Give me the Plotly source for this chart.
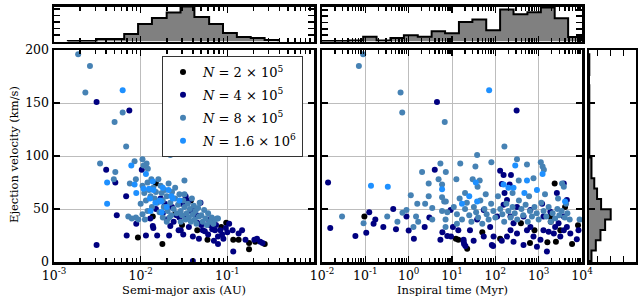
import plotly.graph_objects as go
import numpy as np

W, H = 639, 301

# ---------------- data: left panel (semi-major axis [AU], velocity [km/s]) ----------------
black_a = [0.0093, 0.0138, 0.015, 0.0178, 0.025, 0.030, 0.038, 0.045, 0.059, 0.066, 0.085,
           0.097, 0.117, 0.135, 0.178, 0.178, 0.21, 0.27]
black_va = [23, 43, 74, 17, 45, 35, 58, 30, 21, 39, 33, 37, 21, 21, 18, 12, 19, 17]

navy_a = [0.0031, 0.0040, 0.0051, 0.0053, 0.0068, 0.0069, 0.0089, 0.0103, 0.0115, 0.0129,
          0.0138, 0.0140, 0.0155, 0.0213, 0.022, 0.0274, 0.0031, 0.0074,
          0.015, 0.017, 0.018, 0.020, 0.023, 0.026, 0.033, 0.024, 0.036, 0.038, 0.030, 0.042,
          0.028, 0.019,
          0.029, 0.033, 0.036, 0.040, 0.041, 0.044, 0.045, 0.047, 0.049, 0.052, 0.055, 0.060,
          0.061, 0.067, 0.072, 0.074, 0.078, 0.078, 0.083, 0.087, 0.096, 0.105, 0.115, 0.117,
          0.135, 0.148, 0.162, 0.205, 0.22, 0.24, 0.255, 0.04,
          0.031, 0.05, 0.063, 0.09, 0.1, 0.07]
navy_va = [16, 87, 75, 44, 62, 25, 36, 87, 25, 41,
           34, 32, 25, 25, 34, 30, 151, 143,
           50, 60, 46, 40, 52, 44, 62, 38, 58, 48, 55, 45,
           42, 55,
           30, 41, 33, 24, 51, 44, 37, 22, 56, 30, 29, 26,
           40, 31, 30, 35, 24, 17, 30, 26, 32, 36, 30, 10,
           27, 30, 21, 21, 22, 19, 18, 1,
           26, 35, 35, 22, 28, 20]

steel_a = [0.0019, 0.0026, 0.0023, 0.0062, 0.0050, 0.0068, 0.022, 0.0034, 0.0051, 0.0049,
           0.0085, 0.0105, 0.0117, 0.0108, 0.0121, 0.0075, 0.0088, 0.0133, 0.010, 0.0079,
           0.0088, 0.0094, 0.0072, 0.032, 0.078,
           0.0105, 0.011, 0.0115, 0.012, 0.0125, 0.013, 0.0135, 0.014, 0.0145, 0.015, 0.0155,
           0.016, 0.0105, 0.0112, 0.012,
           0.017, 0.0175, 0.018, 0.0185, 0.019, 0.020, 0.0205, 0.021, 0.022, 0.0225, 0.023,
           0.024, 0.025, 0.026, 0.027, 0.018, 0.020, 0.0215, 0.025, 0.028, 0.0165,
           0.029, 0.030, 0.031, 0.032, 0.033, 0.034, 0.035, 0.036, 0.037, 0.038, 0.040, 0.041,
           0.042, 0.043, 0.044, 0.046, 0.047, 0.048, 0.032, 0.029, 0.039,
           0.05, 0.052, 0.054, 0.056, 0.058, 0.06, 0.063, 0.066, 0.069, 0.072, 0.076]
steel_va = [196, 185, 160, 141, 132, 109, 101, 93, 85, 78,
            95, 97, 93, 91, 88, 74, 78, 78, 55, 41,
            42, 40, 43, 77, 41,
            72, 65, 58, 75, 68, 62, 52, 70, 60, 66, 56,
            78, 45, 40, 48,
            72, 65, 58, 52, 68, 62, 48, 74, 56, 44, 66,
            50, 60, 46, 54, 42, 38, 42, 70, 64, 47,
            48, 44, 58, 52, 40, 46, 55, 42, 50, 38, 45, 53,
            40, 48, 36, 51, 43, 56, 64, 38, 60,
            44, 38, 49, 41, 35, 46, 38, 42, 36, 40, 41]

dodger_a = [0.0062, 0.0041, 0.0041, 0.0078, 0.0085, 0.0115, 0.0089, 0.0108, 0.014, 0.018,
            0.021, 0.0128, 0.0166, 0.0227, 0.0125, 0.0138, 0.0148, 0.0172, 0.0235, 0.013,
            0.02, 0.028, 0.0175]
dodger_va = [162, 75, 55, 91, 73, 83, 65, 69, 68, 70,
             68, 60, 58, 62, 69, 76, 56, 57, 60, 48,
             52, 58, 47]

# ---------------- data: right panel (inspiral time [Myr], velocity [km/s]) ----------------
black_t = [0.095, 12.3, 14, 22.4, 50, 129, 390, 630, 800, 1590, 1860, 1900, 2340, 2500,
           3160, 4070, 5900, 8100]
black_vt = [43, 22, 21, 12.5, 28, 22, 36.5, 18, 30, 18.6, 43, 38, 74, 19, 30, 52, 17, 34.6]

navy_t = [0.0138, 0.0155, 0.059, 0.105, 0.123, 0.155, 0.17, 0.26, 0.44, 0.51, 0.89, 1.0,
          1.32, 2.34, 3.0, 4.0, 4.5, 6.0, 5.4, 7.8, 9.5, 9.3, 310,
          10.5, 14, 18.5, 19, 26, 31.6, 54, 76, 83, 141, 214, 163, 186, 155, 224, 263, 224,
          186, 263, 316, 537, 645, 759, 1100, 1290, 1550, 1700, 2240, 2400, 2880, 3160, 3800,
          4470, 5370, 7590, 8300, 2630, 3800, 4470, 1200, 447, 110, 38, 54, 316, 645, 1290,
          1860, 3800, 91, 447, 912, 129, 155, 229, 18.6, 20.4, 89, 141]
navy_vt = [75, 32, 24.5, 27.7, 47, 36, 40, 33, 50, 31, 43, 29.6,
           22, 33, 42, 87, 151, 28, 21, 24.5, 24, 49, 143,
           33, 30, 21, 17, 30, 20, 24, 33, 16, 73.6, 73, 65, 58.5, 54, 43, 36.5, 30,
           24, 19, 27, 30, 33, 24, 21, 30, 10, 28.6, 27, 33, 36.5, 24, 30,
           33, 27, 21.4, 30, 65, 74, 58.5, 55, 43, 43, 40, 49, 52, 49, 43,
           47.5, 43, 24, 16, 14.5, 86, 82, 82, 19, 15, 15, 20]

steel_t = [0.089, 0.071, 0.65, 0.71, 6.8, 162, 38, 316, 15.5, 81, 537, 1120, 1230, 1320, 34.7,
           0.029, 0.091, 0.32, 0.55, 0.72, 0.89, 1.12, 1.29, 1.48, 1.66, 1.58, 2.04, 2.4, 2.9,
           2.9, 3.5, 3.5, 5.4, 4.9, 5.9, 5.9, 6.6, 7.2, 7.2, 5.9, 7.8, 7.1, 7.1,
           12.6, 30, 43.6, 38.9, 347, 759, 3470, 3800,
           11, 13, 15, 17, 20, 22, 25, 28, 32, 36, 40, 45, 50, 56, 63, 70, 80, 90, 100, 115,
           130, 145, 160, 180, 200, 225, 250, 280, 320, 350, 400, 440, 500, 560, 630, 700, 800,
           900, 1000, 1150, 1300, 1500, 1700, 1900, 2100, 2400, 2700, 3000, 3400, 4000, 4600,
           5200, 600, 250, 1400, 60, 20, 2800, 4300, 13, 8800]
steel_vt = [196, 185, 160, 141, 132, 109, 101, 97, 93, 94, 92, 94, 90, 87, 90,
            43, 36.5, 43, 38, 46.5, 49, 63, 33, 43, 38, 55, 85, 55, 74,
            62, 40, 51, 93, 78, 73, 61, 57, 57, 85, 48, 47, 40, 33,
            78, 78, 77, 71, 77, 79, 74, 71,
            52, 45, 60, 40, 50, 56, 44, 38, 52, 47, 42, 58, 36, 50, 45, 40, 55, 48, 42, 62,
            50, 45, 38, 55, 48, 42, 52, 46, 40, 58, 50, 44, 54, 38, 48, 43, 52,
            46, 40, 56, 48, 43, 52, 38, 46, 41, 50, 44, 48, 42, 46,
            40, 62, 65, 64, 64, 65, 60, 55, 36, 40]

dodger_t = [0.135, 0.33, 72, 5.9, 35.5, 288, 1230, 537, 155, 200, 912, 17, 38, 4070, 25,
            468, 263]
dodger_vt = [72, 71, 162, 68.6, 75, 91, 83, 77, 73, 70, 68, 55, 57, 57, 62, 65, 70]

# ---------------- histogram data ----------------
a_hist_log_edges = [-2.84, -2.68, -2.51, -2.35, -2.19, -2.03, -1.87, -1.70, -1.54, -1.38,
                    -1.21, -1.05, -0.89, -0.73, -0.57, -0.41]
a_hist_counts = [1, 1, 5, 5, 15, 35, 47, 58, 70, 49, 35, 17, 9, 7, 3]

t_hist_log_edges = [-2.0, -1.68, -1.37, -1.05, -0.74, -0.42, -0.11, 0.21, 0.53, 0.84, 1.16,
                    1.47, 1.79, 2.11, 2.42, 2.74, 3.05, 3.37, 3.68, 4.0]
t_hist_counts = [1, 1, 2, 10, 2, 7, 13, 10, 21, 17, 40, 45, 23, 66, 56, 60, 70, 48, 9]

v_hist_edges = [1, 10.75, 20.5, 30.25, 40, 49.75, 59.5, 69.25, 79, 88.75, 98.5, 108.25, 118,
                127.75, 137.5, 147.25, 157, 166.75, 176.5, 186.25, 196]
v_hist_counts = [8, 22, 37, 52, 70, 39, 26, 17, 8, 8, 1, 1, 1, 1, 1, 1, 1, 0, 1, 1]

labels = ["<i>N</i> = 2 × 10<sup>5</sup>", "<i>N</i> = 4 × 10<sup>5</sup>",
          "<i>N</i> = 8 × 10<sup>5</sup>", "<i>N</i> = 1.6 × 10<sup>6</sup>"]
colors = ["#000000", "#000080", "#4682B4", "#1E90FF"]

a_tick_vals = [0.001, 0.01, 0.1, 1]
a_tick_text = ["10<sup>-3</sup>", "10<sup>-2</sup>", "10<sup>-1</sup>", ""]
t_tick_vals = [0.01, 0.1, 1, 10, 100, 1000, 10000]
t_tick_text = ["10<sup>-2</sup>", "10<sup>-1</sup>", "10<sup>0</sup>", "10<sup>1</sup>",
               "10<sup>2</sup>", "10<sup>3</sup>", "10<sup>4</sup>"]

# ---------------- figure ----------------
FONT = "DejaVu Serif"


def fx(p):
    return p / W


def fy(p):
    return 1 - p / H


def minor_vals(d0, d1):
    return [k * 10.0 ** d for d in range(d0, d1) for k in range(2, 10)]


fig = go.Figure()

left_sets = [(black_a, black_va), (navy_a, navy_va), (steel_a, steel_va), (dodger_a, dodger_va)]
right_sets = [(black_t, black_vt), (navy_t, navy_vt), (steel_t, steel_vt), (dodger_t, dodger_vt)]

for i in range(4):
    fig.add_trace(go.Scatter(x=left_sets[i][0], y=left_sets[i][1], mode="markers",
                             marker=dict(color=colors[i], size=6, line=dict(width=0)),
                             name=labels[i], legendgroup=str(i), xaxis="x", yaxis="y"))
for i in range(4):
    fig.add_trace(go.Scatter(x=right_sets[i][0], y=right_sets[i][1], mode="markers",
                             marker=dict(color=colors[i], size=6, line=dict(width=0)),
                             showlegend=False, xaxis="x2", yaxis="y2"))


def step_xy(edges, counts):
    xs = [edges[0]] + list(edges)
    ys = [0] + list(counts) + [0]
    return xs, ys


ax, ay = step_xy([10 ** e for e in a_hist_log_edges], a_hist_counts)
fig.add_trace(go.Scatter(x=ax, y=ay, mode="lines", line=dict(color="black", width=2, shape="hv"),
                         fill="tozeroy", fillcolor="#808080", showlegend=False,
                         xaxis="x4", yaxis="y4"))
tx, ty = step_xy([10 ** e for e in t_hist_log_edges], t_hist_counts)
fig.add_trace(go.Scatter(x=tx, y=ty, mode="lines", line=dict(color="black", width=2, shape="hv"),
                         fill="tozeroy", fillcolor="#808080", showlegend=False,
                         xaxis="x5", yaxis="y5"))
vy, vx = step_xy(v_hist_edges, v_hist_counts)
fig.add_trace(go.Scatter(x=vx, y=vy, mode="lines", line=dict(color="black", width=2, shape="vh"),
                         fill="tozerox", fillcolor="#808080", showlegend=False,
                         xaxis="x3", yaxis="y3"))

frame = dict(showline=True, linecolor="black", linewidth=2.5, mirror="allticks",
             ticks="inside", ticklen=6, tickwidth=1.5, tickcolor="black",
             zeroline=False, automargin=False,
             tickfont=dict(family=FONT, size=12.5, color="black"))
grid = dict(showgrid=True, gridcolor="#bdbdbd", gridwidth=1)
minor_a = dict(ticks="inside", ticklen=4, tickwidth=1.5, tickcolor="black", showgrid=False,
               tickvals=minor_vals(-3, 0))
minor_t = dict(ticks="inside", ticklen=4, tickwidth=1.5, tickcolor="black", showgrid=False,
               tickvals=minor_vals(-2, 4))

dl = [fx(54), fx(314)]
dr = [fx(322), fx(582)]
dh = [fx(589), fx(635.5)]
ymain = [fy(262), fy(50)]
ytop = [fy(41.5), fy(6.5)]

fig.update_layout(
    width=W, height=H, margin=dict(l=0, r=0, t=0, b=0, autoexpand=False),
    paper_bgcolor="white", plot_bgcolor="white",
    font=dict(family=FONT, color="black"),
    hovermode=False, dragmode=False,
    xaxis=dict(domain=dl, type="log", range=[-3, 0], anchor="y", tickvals=a_tick_vals,
               ticktext=a_tick_text, minor=minor_a, **frame, **grid),
    yaxis=dict(domain=ymain, range=[0, 200], anchor="x", tickvals=[0, 50, 100, 150, 200],
               **frame, **grid),
    xaxis2=dict(domain=dr, type="log", range=[-2, 4], anchor="y2", tickvals=t_tick_vals,
                ticktext=t_tick_text, minor=minor_t, **frame, **grid),
    yaxis2=dict(domain=ymain, range=[0, 200], anchor="x2", tickvals=[0, 50, 100, 150, 200],
                showticklabels=False, **frame, **grid),
    xaxis3=dict(domain=dh, range=[0, 150], anchor="y3", tickvals=[28, 70, 112],
                showticklabels=False, showgrid=False, **frame),
    yaxis3=dict(domain=ymain, range=[0, 200], anchor="x3", tickvals=[0, 50, 100, 150, 200],
                showticklabels=False, showgrid=False, **frame),
    xaxis4=dict(domain=dl, type="log", range=[-3, 0], anchor="y4", tickvals=a_tick_vals,
                showticklabels=False, showgrid=False, minor=minor_a, **frame),
    yaxis4=dict(domain=ytop, range=[0, 70], anchor="x4", tick0=0, dtick=13,
                showticklabels=False, showgrid=False, **frame),
    xaxis5=dict(domain=dr, type="log", range=[-2, 4], anchor="y5", tickvals=t_tick_vals,
                showticklabels=False, showgrid=False, minor=minor_t, **frame),
    yaxis5=dict(domain=ytop, range=[0, 72], anchor="x5", tick0=0, dtick=13,
                showticklabels=False, showgrid=False, **frame),
    legend=dict(x=fx(162), y=fy(56), xanchor="left", yanchor="top",
                bgcolor="white", bordercolor="#333333", borderwidth=1,
                font=dict(family=FONT, size=13, color="black"),
                tracegroupgap=3),
    annotations=[
        dict(text="Semi-major axis (AU)", x=fx(184), y=fy(290), xref="paper", yref="paper",
             showarrow=False, font=dict(family=FONT, size=11.5, color="black"),
             xanchor="center", yanchor="middle"),
        dict(text="Inspiral time (Myr)", x=fx(452), y=fy(290), xref="paper", yref="paper",
             showarrow=False, font=dict(family=FONT, size=11.5, color="black"),
             xanchor="center", yanchor="middle"),
        dict(text="Ejection velocity (km/s)", x=fx(14), y=fy(155), xref="paper", yref="paper",
             showarrow=False, textangle=-90, font=dict(family=FONT, size=11.5, color="black"),
             xanchor="center", yanchor="middle"),
    ],
)

fig.write_html("out.html", config={"staticPlot": True, "displayModeBar": False},
               post_script="document.body.style.margin='0';document.body.style.padding='0';")
